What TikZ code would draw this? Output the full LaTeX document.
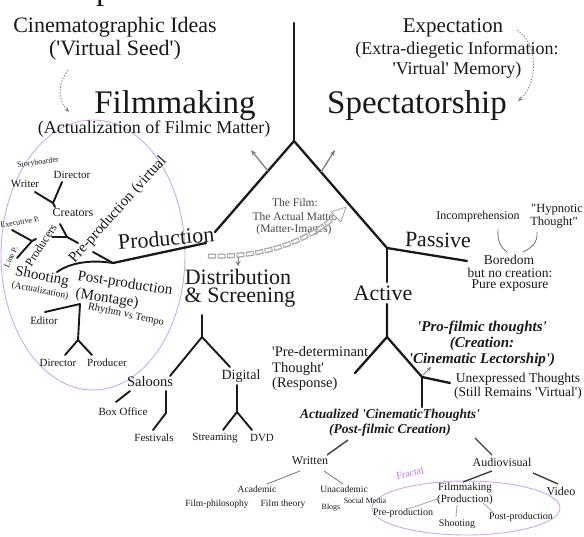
\documentclass[tikz,border=0pt]{standalone}
\usepackage{fontspec}
\setmainfont{Liberation Serif}
\usetikzlibrary{arrows.meta}
\newcommand\sq{\textquotesingle}
\newcommand\dq{\textquotedbl}
\definecolor{lilac}{RGB}{205,170,235}
\definecolor{fractalc}{RGB}{185,120,225}
\definecolor{txt}{RGB}{25,25,25}
\definecolor{soft}{RGB}{70,70,70}
\tikzset{
 fs/.style={font=\fontsize{#1}{#1}\selectfont},
 lbl/.style={inner sep=0pt, text=txt},
 bi/.style={font=\fontsize{#1}{16}\selectfont\bfseries\itshape},
 trunk/.style={line width=2.3pt, txt, line cap=round, line join=round},
 limb/.style={line width=1.9pt, txt, line cap=round, line join=round},
 mid/.style={line width=1.4pt, black!75},
 twig/.style={line width=0.8pt, black!55},
 garrow/.style={line width=1.3pt, gray, -{Stealth[length=6pt,width=5pt]}},
 dotarrow/.style={gray, line width=0.8pt, dash pattern=on 1.5pt off 1.5pt, -{Stealth[length=5pt,width=4pt]}},
}
\begin{document}
\begin{tikzpicture}[x=1pt,y=-1pt]
\useasboundingbox (0,0) rectangle (584,536);
\fill[white] (0,0) rectangle (584,536);
\begin{scope}
\clip (0,0) rectangle (584,536);
\node[fs=33, anchor=base west, inner sep=0pt, text=txt] (cut) at (96,-1) {p};
\end{scope}

% ellipses
\draw[lilac, line width=0.9pt] (93,255) ellipse [x radius=92, y radius=135];
\draw[lilac, line width=0.9pt] (466,508) ellipse [x radius=94, y radius=27];

% headings
\node[lbl, fs=22] (ideas) at (115,27) {Cinematographic Ideas};
\node[lbl, fs=22] (seed) at (115,50) {(\sq Virtual Seed\sq)};
\node[lbl, fs=33] (filmmaking) at (175,106) {Filmmaking};
\node[lbl, fs=18] (actualization) at (154,129) {(Actualization of Filmic Matter)};
\node[lbl, fs=21] (expect) at (453,28) {Expectation};
\node[lbl, fs=18] (extra) at (457,50) {(Extra-diegetic Information:};
\node[lbl, fs=18] (vmem) at (457,70) {\sq Virtual\sq{} Memory)};
\node[lbl, fs=33] (spect) at (417,106) {Spectatorship};

\coordinate (d1s) at (68,70);
\coordinate (d1e) at (69,112);
\draw[dotarrow] (d1s) .. controls (57,85) and (58,100) .. (d1e);
\coordinate (d2s) at (517,30);
\coordinate (d2e) at (518,101);
\draw[dotarrow] (d2s) .. controls (540,45) and (537,85) .. (d2e);

% main tree
\coordinate (top) at (294,23);
\coordinate (fork) at (294,141);
\coordinate (prodA) at (215,232);
\coordinate (prodB) at (206,243);
\coordinate (prodj) at (113,263);
\coordinate (actj) at (387,248);
\coordinate (passend) at (467,261);
\draw[trunk] (top) -- (fork);
\draw[trunk] (fork) -- (prodA);
\draw[trunk] (prodB) -- (prodj);
\draw[trunk] (fork) -- (actj) -- (passend);

\coordinate (ga1) at (268,171); \coordinate (ga2) at (251,150);
\coordinate (gb1) at (321,172); \coordinate (gb2) at (335,150);
\draw[garrow] (ga1) -- (ga2);
\draw[garrow] (gb1) -- (gb2);

% film / chain
\node[lbl, fs=11.5, text=soft] (film1) at (295,203) {The Film:};
\node[lbl, fs=11.5, text=soft] (film2) at (295,217) {The Actual Matter};
\node[lbl, fs=11.5, text=soft] (film3) at (294,230) {(Matter-Images)};
\coordinate (ch1) at (208,256);
\coordinate (ch2) at (337,215);
\draw[gray!70, line width=5pt, dash pattern=on 8pt off 1.5pt] (ch1) .. controls (265,258) and (310,240) .. (ch2);
\draw[white, line width=2.4pt, dash pattern=on 0pt off 1pt on 6pt off 2.5pt] (ch1) .. controls (265,258) and (310,240) .. (ch2);
\draw[gray!70, fill=white, line width=0.8pt] (346,207) -- (331,212) -- (341,222) -- cycle;
\coordinate (dn1) at (238,257); \coordinate (dn2) at (238,266);
\draw[gray, line width=0.8pt, -{Stealth[length=5pt,width=5pt]}] (dn1) -- (dn2);

% production side
\node[lbl, fs=22, rotate=5] (production) at (166,238) {Production};
\node[lbl, fs=15, rotate=48] (preprod) at (118,210) {Pre-production (virtual};
\coordinate (pp1) at (93,252);
\coordinate (pp2) at (78,243);
\coordinate (ppy) at (67,237);
\draw[limb] (prodj) -- (pp1);
\draw[limb] (pp2) -- (ppy);
\coordinate (shootend) at (57,272);
\draw[limb] (prodj) .. controls (88,259) and (68,264) .. (shootend);
\node[lbl, fs=15, rotate=-11] (shooting) at (42,277) {Shooting};
\node[lbl, fs=9.5, rotate=-11] (actz) at (40,291) {(Actualization)};
\node[lbl, fs=15, rotate=-9] (postprod) at (125,284) {Post-production};
\node[lbl, fs=15, rotate=-9] (montage) at (107,299) {(Montage)};
\node[lbl, fs=10.5, rotate=-12] (rhythm) at (126,315) {Rhythm vs Tempo};

\coordinate (ed1) at (45,312);
\coordinate (ed2) at (80,304);
\coordinate (ed3) at (78,340);
\coordinate (ed4) at (65,355);
\coordinate (ed5) at (92,355);
\draw[limb] (ed1) -- (ed2) -- (ed3) -- (ed4);
\draw[limb] (ed3) -- (ed5);
\node[lbl, fs=11] (editor) at (44,321) {Editor};
\node[lbl, fs=11] (director2) at (58,363) {Director};
\node[lbl, fs=11] (producer) at (107,363) {Producer};

% creators / producers
\node[lbl, fs=8, rotate=8] (story) at (38,163) {Storyboarder};
\node[lbl, fs=11] (director1) at (72,175) {Director};
\node[lbl, fs=11] (writer) at (25,184) {Writer};
\node[lbl, fs=12] (creators) at (73,213) {Creators};
\node[lbl, fs=8, rotate=10] (execp) at (20,222) {Executive P.};
\node[lbl, fs=8, rotate=65] (linep) at (11,257) {Line P.};
\node[lbl, fs=12, rotate=57] (producers) at (41,245) {Producers};
\coordinate (wd1) at (35,192);
\coordinate (wd2) at (62,182);
\coordinate (wdj) at (53,203);
\coordinate (wds) at (55,207);
\draw[limb] (wd1) -- (wdj) -- (wd2);
\draw[limb] (wdj) -- (wds);
\coordinate (cr1) at (60,224);
\coordinate (cr2) at (52,237);
\draw[limb] (cr1) -- (ppy) -- (cr2);
\coordinate (pr1) at (12,230);
\coordinate (pr2) at (17,258);
\coordinate (prj) at (32,241);
\coordinate (prs) at (36,239);
\draw[limb] (pr1) -- (prj) -- (pr2);
\draw[limb] (prj) -- (prs);

% distribution
\node[lbl, fs=22] (distr) at (238,277) {Distribution};
\node[lbl, fs=22] (screen) at (240,298) {\&~Screening};
\coordinate (ds1) at (202,315);
\coordinate (dsj) at (202,337);
\coordinate (dsl) at (170,376);
\coordinate (dsr) at (230,367);
\draw[limb] (ds1) -- (dsj) -- (dsl);
\draw[limb] (dsj) -- (dsr);
\node[lbl, fs=14.5] (saloons) at (150,382) {Saloons};
\node[lbl, fs=14] (digital) at (241,376) {Digital};
\coordinate (sb1) at (130,391);
\coordinate (sb2) at (116,402);
\draw[limb] (sb1) -- (sb2);
\coordinate (sf1) at (166,391);
\coordinate (sf2) at (166,413);
\coordinate (sf3) at (153,430);
\draw[limb] (sf1) -- (sf2) -- (sf3);
\coordinate (dg1) at (237,385);
\coordinate (dgj) at (237,412);
\coordinate (dgl) at (223,430);
\coordinate (dgr) at (252,430);
\draw[limb] (dg1) -- (dgj) -- (dgl);
\draw[limb] (dgj) -- (dgr);
\node[lbl, fs=11] (boxoffice) at (123,412) {Box Office};
\node[lbl, fs=11] (festivals) at (154,438) {Festivals};
\node[lbl, fs=11] (streaming) at (215,438) {Streaming};
\node[lbl, fs=11] (dvd) at (262,438) {DVD};

% spectatorship side
\node[lbl, fs=22, rotate=-2] (passive) at (438,240) {Passive};
\node[lbl, fs=12] (incomp) at (478,217) {Incomprehension};
\node[lbl, fs=12.5] (hyp1) at (557,210) {\dq Hypnotic};
\node[lbl, fs=12.5] (hyp2) at (554,223) {Thought\dq};
\coordinate (bl1) at (498,229); \coordinate (bl2) at (507,252);
\coordinate (br1) at (537,232); \coordinate (br2) at (523,252);
\draw[twig] (bl1) .. controls (497,241) and (501,248) .. (bl2);
\draw[twig] (br1) .. controls (538,243) and (531,248) .. (br2);
\node[lbl, fs=13.5] (boredom) at (509,260) {Boredom};
\node[lbl, fs=13.5] (nocreate) at (510,273) {but no creation:};
\node[lbl, fs=13.5] (pure) at (510,286) {Pure exposure};

\node[lbl, fs=22] (active) at (383,293) {Active};
\coordinate (ac1) at (387,282);
\coordinate (ac2) at (387,304);
\coordinate (acj) at (387,337);
\coordinate (acl) at (355,373);
\coordinate (acr) at (422,377);
\coordinate (une) at (450,383);
\coordinate (acd) at (422,407);
\draw[trunk] (actj) -- (ac1);
\draw[trunk] (ac2) -- (acj) -- (acl);
\draw[trunk] (acj) -- (acr) -- (une);
\draw[trunk] (acr) -- (acd);
\coordinate (sa1) at (423,375); \coordinate (sa2) at (431,367);
\draw[gray, line width=0.9pt, -{Stealth[length=4pt,width=4pt]}] (sa1) -- (sa2);

\node[lbl, align=left, font=\fontsize{14.5}{15.5}\selectfont, anchor=west] (predet) at (272,369) {\sq Pre-determinant\\Thought\sq\\(Response)};
\node[lbl, align=center, bi=15] (profilmic) at (482,344) {\sq Pro-filmic thoughts\sq\\(Creation:\\\sq Cinematic Lectorship\sq)};
\node[lbl, align=center, font=\fontsize{13.5}{14}\selectfont] (unexp) at (518,386) {Unexpressed Thoughts\\(Still Remains \sq Virtual\sq)};
\node[lbl, align=center, font=\fontsize{13.5}{15}\selectfont\bfseries\itshape] (actualized) at (390,423) {Actualized \sq CinematicThoughts\sq\\(Post-filmic Creation)};

% written
\coordinate (wr1) at (348,440); \coordinate (wr2) at (327,455);
\draw[mid] (wr1) -- (wr2);
\node[lbl, fs=12] (written) at (310,461) {Written};
\coordinate (wa1) at (300,471); \coordinate (wa2) at (267,484);
\coordinate (wu1) at (324,471); \coordinate (wu2) at (343,484);
\draw[twig] (wa1) -- (wa2);
\draw[twig] (wu1) -- (wu2);
\node[lbl, fs=9.5] (academic) at (257,489) {Academic};
\node[lbl, fs=9.5] (unacademic) at (344,489) {Unacademic};
\node[lbl, fs=9.5] (filmphil) at (217,504) {Film-philosophy};
\node[lbl, fs=9.5] (filmtheory) at (283,504) {Film theory};
\node[lbl, fs=8] (blogs) at (331,508) {Blogs};
\node[lbl, fs=8] (social) at (365,501) {Social Media};

% audiovisual
\coordinate (av1) at (475,438); \coordinate (av2) at (492,455);
\draw[mid] (av1) -- (av2);
\node[lbl, fs=12] (audiovisual) at (502,462) {Audiovisual};
\coordinate (vd1) at (533,473); \coordinate (vd2) at (558,484);
\draw[mid] (vd1) -- (vd2);
\node[lbl, fs=12] (video) at (561,491) {Video};
\coordinate (fm1) at (492,471); \coordinate (fm2) at (463,482);
\draw[mid] (fm1) -- (fm2);
\node[lbl, fs=10, rotate=12, text=fractalc] (fractal) at (410,473) {Fractal};
\node[lbl, fs=11] (fmk) at (465,488) {Filmmaking};
\node[lbl, fs=11] (fmkp) at (465,500) {(Production)};
\node[lbl, fs=10] (fpre) at (403,513) {Pre-production};
\node[lbl, fs=10] (fshoot) at (457,524) {Shooting};
\node[lbl, fs=10] (fpost) at (521,517) {Post-production};
\coordinate (fl1) at (440,498); \coordinate (fl2) at (408,509);
\coordinate (fs1) at (457,505); \coordinate (fs2) at (456,517);
\coordinate (fp1) at (483,503); \coordinate (fp2) at (493,512);
\draw[twig, black!35] (fl1) -- (fl2);
\draw[twig, black!35] (fs1) -- (fs2);
\draw[twig, black!35] (fp1) -- (fp2);
\end{tikzpicture}
\end{document}
